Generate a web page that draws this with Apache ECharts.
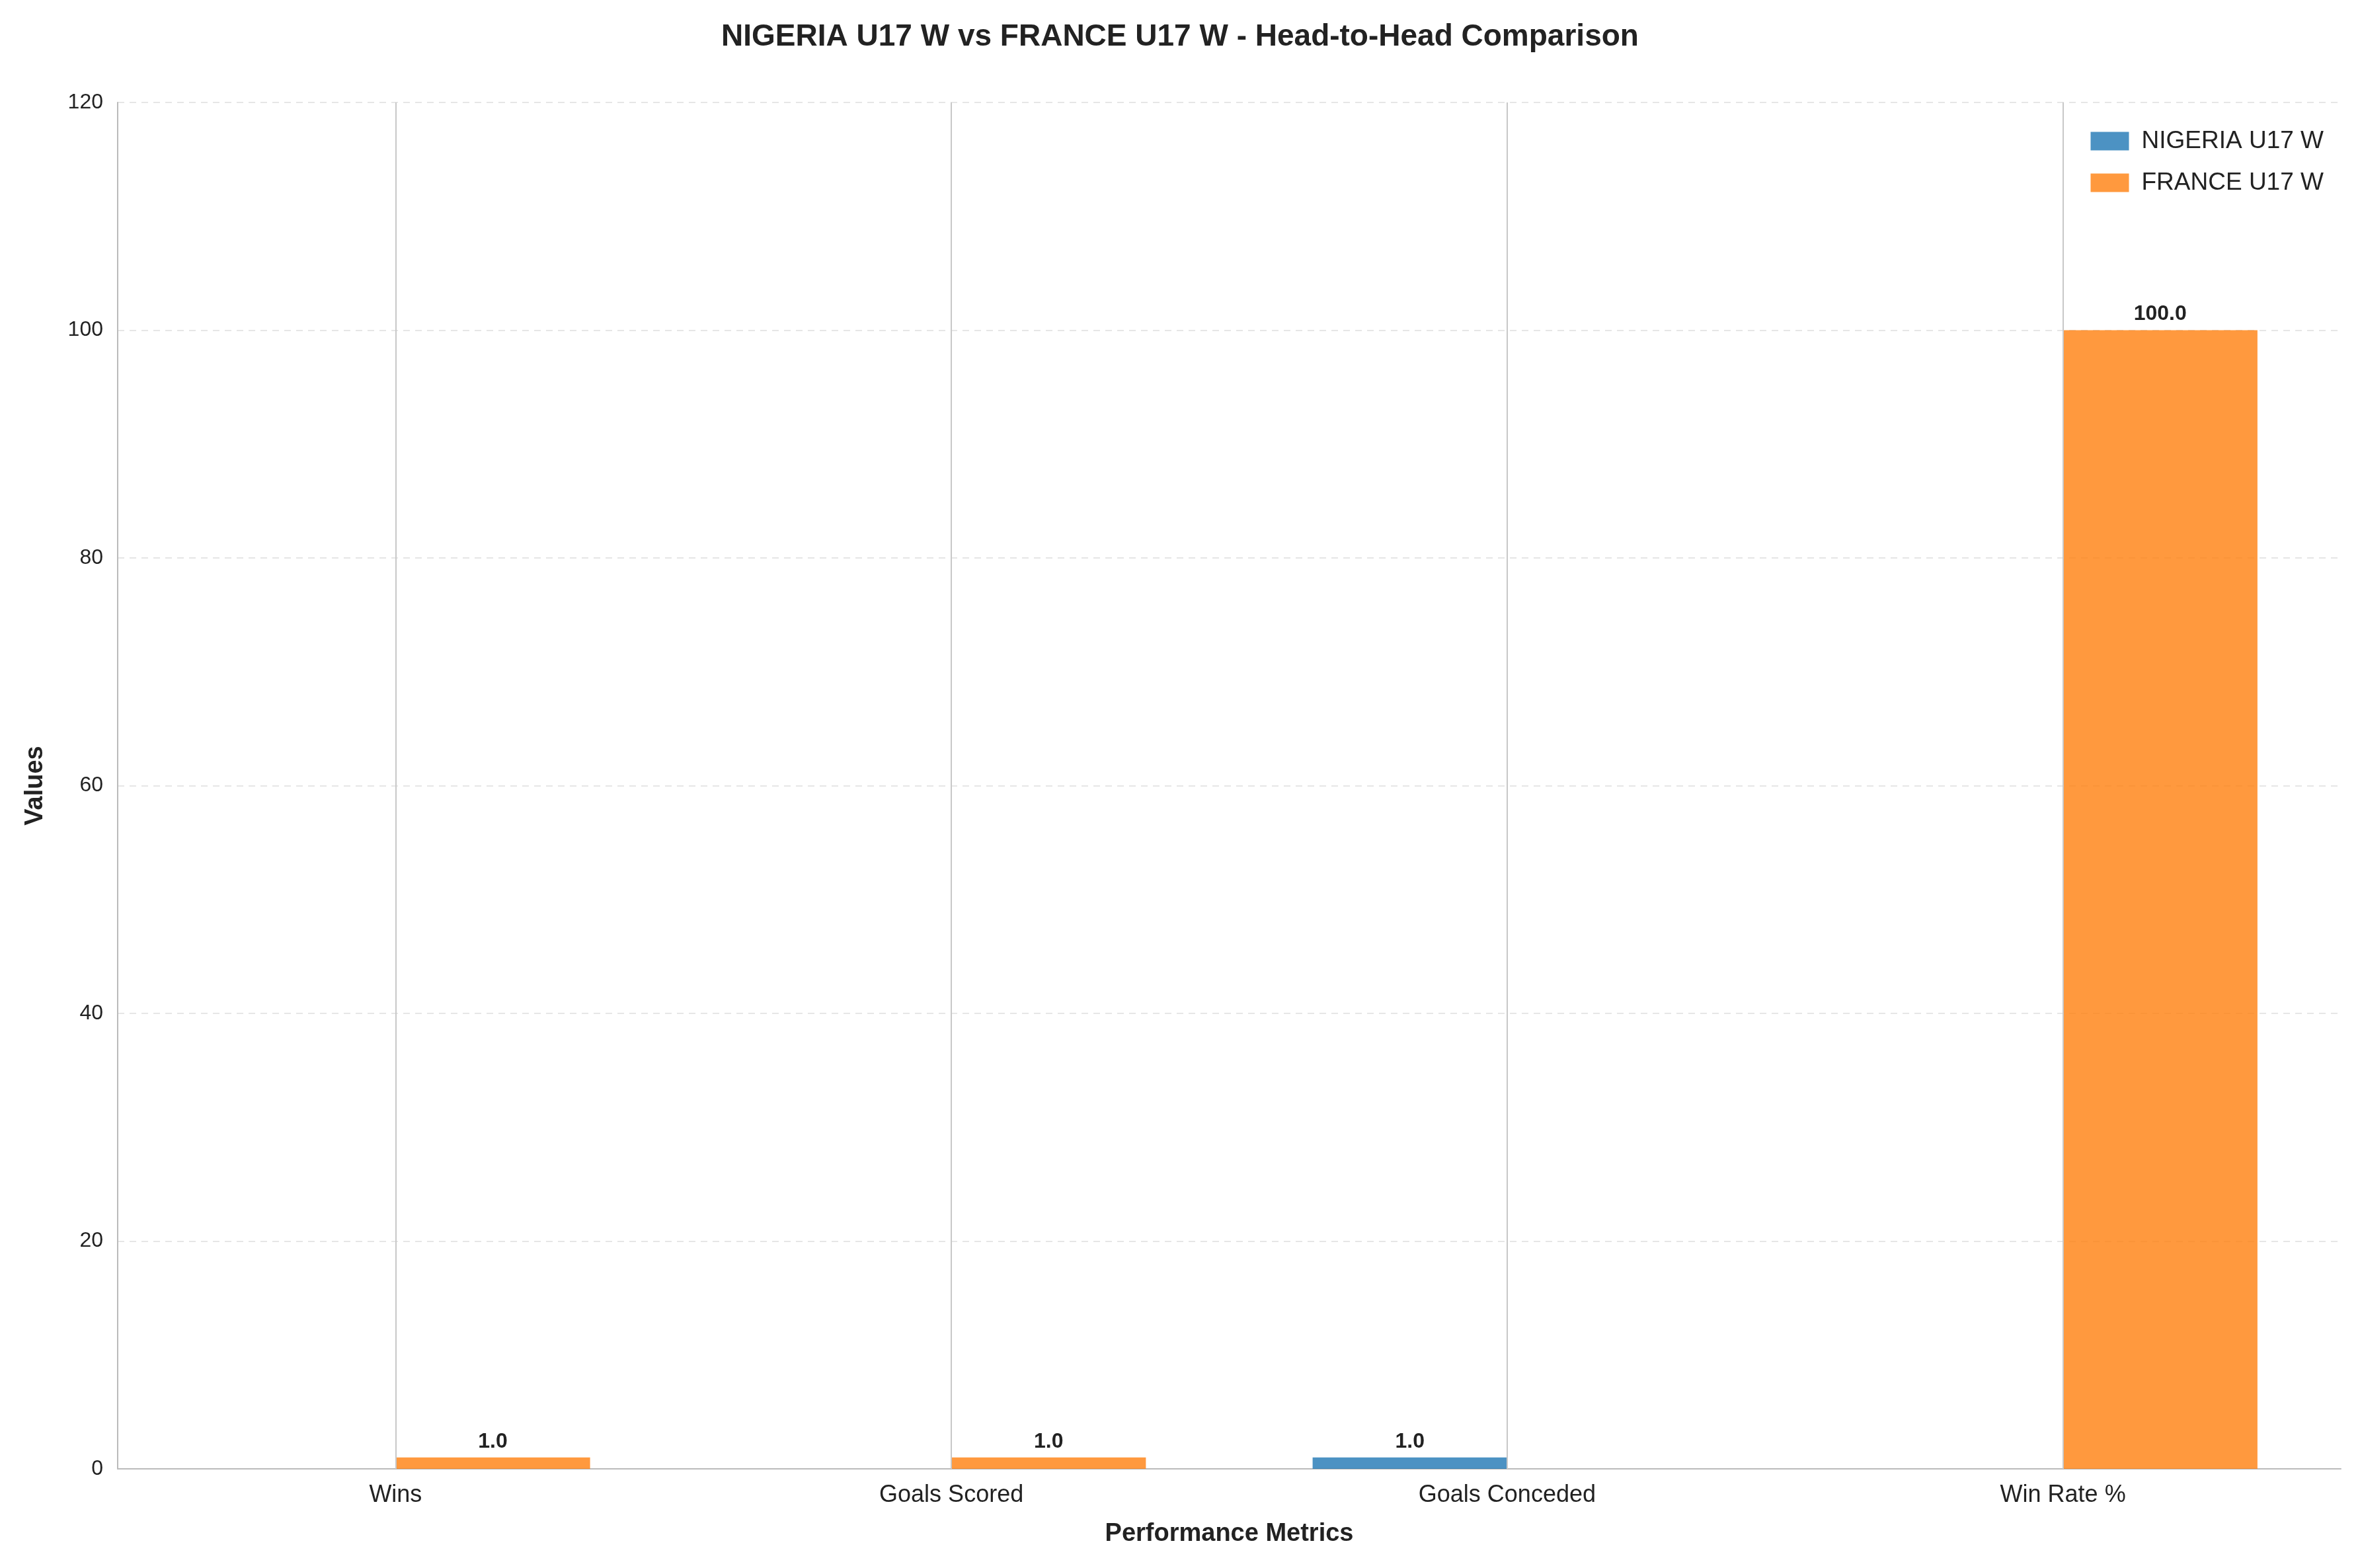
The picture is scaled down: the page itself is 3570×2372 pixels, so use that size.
<!DOCTYPE html>
<html><head><meta charset="utf-8">
<script src="https://cdn.jsdelivr.net/npm/echarts@6/dist/echarts.min.js"></script>
<style>html,body{margin:0;padding:0;background:#fff}#c{width:3570px;height:2372px}</style>
</head><body><div id="c"></div>
<script>
const categories = ['Wins','Goals Scored','Goals Conceded','Win Rate %'];
const nigeria = [0,0,1,0];
const france = [1,1,0,100];
const yTicks = [0,20,40,60,80,100,120];

const F = 'Liberation Sans, Arial, sans-serif';
const lbl = {show:true,position:'top',distance:8,fontFamily:F,fontSize:32,fontWeight:'bold',color:'#222',
  formatter:p=>p.value>0?p.value.toFixed(1):''};
const chart = echarts.init(document.getElementById('c'));
chart.setOption({
  backgroundColor:'#fff',
  animation:false,
  title:{text:'NIGERIA U17 W vs FRANCE U17 W - Head-to-Head Comparison',left:'center',top:28,
    textStyle:{fontFamily:F,fontSize:46,fontWeight:'bold',color:'#222'}},
  legend:{top:190,right:50,orient:'vertical',icon:'rect',itemWidth:58,itemHeight:28,itemGap:26,
    textStyle:{fontFamily:F,fontSize:37,color:'#222',padding:[0,0,0,14]},data:['NIGERIA U17 W','FRANCE U17 W']},
  grid:{left:178,right:29,top:155,bottom:150,containLabel:false},
  xAxis:{type:'category',data:categories,name:'Performance Metrics',nameLocation:'middle',nameGap:80,
    nameTextStyle:{fontFamily:F,fontSize:38,fontWeight:'bold',color:'#222'},
    axisLine:{lineStyle:{color:'#bbb',width:2}},axisTick:{show:false},
    axisLabel:{fontFamily:F,fontSize:36,color:'#222',margin:22},splitLine:{show:false}},
  yAxis:{type:'value',min:0,max:120,interval:20,name:'Values',nameLocation:'middle',nameGap:105,
    nameTextStyle:{fontFamily:F,fontSize:38,fontWeight:'bold',color:'#222'},
    axisLine:{show:true,lineStyle:{color:'#bbb',width:2}},axisTick:{show:false},
    axisLabel:{fontFamily:F,fontSize:32,color:'#222',margin:22,formatter:v=>yTicks.includes(v)?String(v):''},
    splitLine:{lineStyle:{color:'#e6e6e6',type:[10,8],width:2}}},
  series:[
    {name:'NIGERIA U17 W',type:'bar',data:nigeria,barWidth:'35%',barGap:'0%',
      itemStyle:{color:'rgba(31,119,180,0.8)'},label:lbl},
    {name:'FRANCE U17 W',type:'bar',data:france,barWidth:'35%',
      itemStyle:{color:'rgba(255,127,14,0.8)'},label:lbl},
    {name:'vgrid',type:'line',data:[],silent:true,z:1,
      markLine:{silent:true,symbol:'none',label:{show:false},
        lineStyle:{color:'#c8c8c8',type:'solid',width:2},
        data:categories.map(c=>({xAxis:c}))}}
  ]
});
</script></body></html>
